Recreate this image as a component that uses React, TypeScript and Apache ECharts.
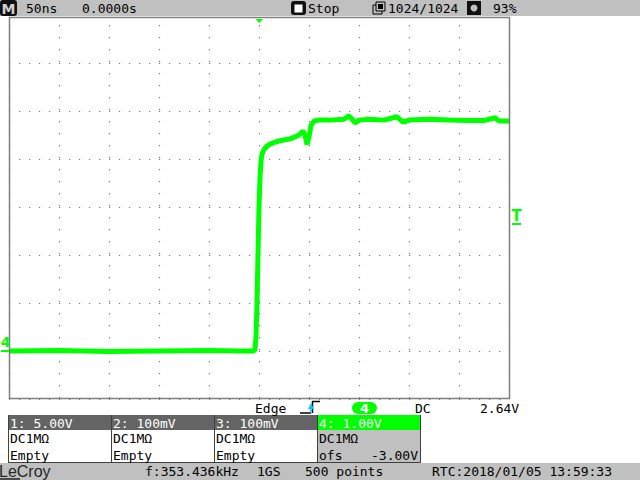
import React, { useEffect, useRef } from "react";
import * as echarts from "echarts";

// Channel 4 trace: time in ns (50 ns/div, trigger at 0) and volts (1 V/div, offset -3 V)
const timeNs = [-250, -200, -150, -100, -50, -20, -6, -4, -3, -2, -1, 0, 1, 2, 3, 5, 8, 11, 16, 21, 26, 31, 36, 40, 44, 46, 48, 50, 52, 55, 60, 70, 85, 90, 93, 96, 100, 110, 125, 138, 144, 150, 170, 190, 210, 225, 236, 240, 250];
const ch4Volts = [0.0, 0.01, -0.01, 0.0, 0.01, 0.0, 0.0, 0.02, 0.3, 1.0, 2.0, 3.0, 3.6, 3.95, 4.1, 4.2, 4.27, 4.31, 4.35, 4.38, 4.4, 4.42, 4.46, 4.5, 4.58, 4.5, 4.3, 4.46, 4.7, 4.79, 4.81, 4.81, 4.83, 4.9, 4.83, 4.75, 4.81, 4.83, 4.81, 4.88, 4.77, 4.81, 4.83, 4.81, 4.8, 4.8, 4.86, 4.79, 4.79];

const headerTexts = ["50ns", "0.0000s", "Stop", "1024/1024", "93%"];
const channelHeaders = ["1: 5.00V", "2: 100mV", "3: 100mV", "4: 1.00V"];
const channelCoupling = ["DC1MΩ", "DC1MΩ", "DC1MΩ", "DC1MΩ"];
const channelStatus = ["Empty", "Empty", "Empty", "ofs"];
const ch4Offset = "-3.00V";
const triggerTexts = ["Edge", "4", "DC", "2.64V"];
const footerTexts = ["f:353.436kHz", "1GS", "500 points", "RTC:2018/01/05 13:59:33"];

const MONO = "13px 'DejaVu Sans Mono'";
const GREEN = "#00ff00";

function txt(text: string, x: number, y: number, fill = "#000", font = MONO, align = "left") {
  return {
    type: "text",
    x,
    y,
    silent: true,
    z: 100,
    style: { text, fill, font, textAlign: align, align, textVerticalAlign: "middle", verticalAlign: "middle" },
  };
}
function rect(x: number, y: number, w: number, h: number, fill: string, stroke?: string, r = 0, z = 90) {
  return {
    type: "rect",
    silent: true,
    z,
    shape: { x, y, width: w, height: h, r },
    style: { fill, stroke: stroke || "none", lineWidth: 1 },
  };
}
function line(x1: number, y1: number, x2: number, y2: number, stroke: string, w = 1, z = 95) {
  return { type: "line", silent: true, z, shape: { x1, y1, x2, y2 }, style: { stroke, lineWidth: w } };
}

export default function App() {
  const ref = useRef<HTMLDivElement>(null);
  useEffect(() => {
    if (!ref.current) return;
    const chart = echarts.init(ref.current, null, { renderer: "svg" });
    const data = timeNs.map((t, i) => [t, ch4Volts[i]]);

    const graphics: any[] = [];
    // header bar
    graphics.push(rect(0, 0, 640, 16, "#c0c0c0"));
    graphics.push(rect(0, 0, 17, 16, "#101010", undefined, 3));
    graphics.push(txt("M", 8.5, 8.5, "#d0d0d0", "bold 14px 'DejaVu Sans'", "center"));
    graphics.push(txt(headerTexts[0], 26, 8));
    graphics.push(txt(headerTexts[1], 82, 8));
    graphics.push(rect(291, 1, 15, 14, "#101010", undefined, 3));
    graphics.push(rect(294.5, 4.5, 8, 8, "#ffffff", undefined, 0, 91));
    graphics.push(txt(headerTexts[2], 308, 8));
    graphics.push(rect(373, 5, 9, 9, "#c0c0c0", "#000", 0, 91));
    graphics.push(rect(376, 2, 9, 9, "#c0c0c0", "#000", 0, 92));
    graphics.push(rect(378, 4, 5, 5, "#000", undefined, 0, 93));
    graphics.push(txt(headerTexts[3], 388, 8));
    graphics.push(rect(467, 1, 14, 14, "#101010", undefined, 0));
    graphics.push({ type: "circle", silent: true, z: 92, shape: { cx: 474, cy: 8, r: 3.5 }, style: { fill: "#c0c0c0" } });
    graphics.push(txt(headerTexts[4], 493, 8));

    // plot frame
    graphics.push(line(9, 17.5, 509.5, 17.5, "#808080", 1.5));
    graphics.push(line(9.5, 17, 9.5, 399, "#808080", 1.5));
    graphics.push(line(509.5, 17, 509.5, 399, "#808080", 1.5));
    graphics.push(line(9, 398.5, 510, 398.5, "#808080", 1.5));

    // markers
    graphics.push({ type: "polygon", silent: true, z: 95, shape: { points: [[255.5, 19], [263, 19], [259.2, 23]] }, style: { fill: GREEN } });
    graphics.push(txt("T", 516.5, 215.5, GREEN, "bold 15px 'DejaVu Sans'", "center"));
    graphics.push(line(512, 224, 521, 224, GREEN, 2));
    graphics.push(txt("4", 5.5, 342, GREEN, "bold 14px 'DejaVu Sans'", "center"));
    graphics.push(line(1, 351, 9, 351, GREEN, 2));

    // trigger info row
    graphics.push(txt(triggerTexts[0], 255, 408));
    graphics.push(line(300, 413, 311, 413, "#000", 1.5));
    graphics.push(line(312.5, 413, 312.5, 401, "#000", 1.5));
    graphics.push(line(312, 401.5, 320, 401.5, "#000", 1.5));
    graphics.push({ type: "polygon", silent: true, z: 96, shape: { points: [[308, 409], [314, 409], [311, 403]] }, style: { fill: "#00c8ff" } });
    graphics.push(line(311, 408, 311, 413, "#00c8ff", 1.5, 96));
    graphics.push(rect(352, 402, 25, 12, GREEN, undefined, 6));
    graphics.push(txt(triggerTexts[1], 364.5, 408, "#ffffff", "bold 13px 'DejaVu Sans'", "center"));
    graphics.push(txt(triggerTexts[2], 415, 408));
    graphics.push(txt(triggerTexts[3], 480, 408));

    // channel boxes
    const bx = [8, 111, 214, 317];
    const bw = [103, 103, 103, 103];
    for (let i = 0; i < 4; i++) {
      const x = bx[i];
      const w = bw[i];
      const isCh4 = i === 3;
      graphics.push(rect(x, 415, w, 15, isCh4 ? GREEN : "#646464"));
      graphics.push(rect(x, 430, w, 33, isCh4 ? "#c0c0c0" : "#ffffff"));
      graphics.push(txt(channelHeaders[i], x + 2, 423, "#ffffff"));
      graphics.push(txt(channelCoupling[i], x + 2, 438.5, "#000"));
      graphics.push(txt(channelStatus[i], x + 2, 455, "#000"));
      graphics.push(line(x + 0.5, 415, x + 0.5, 463, "#404040", 1));
    }
    graphics.push(txt(ch4Offset, 418, 455, "#000", MONO, "right"));
    graphics.push(line(420.5, 415, 420.5, 463, "#404040", 1));
    graphics.push(line(8, 462.5, 421, 462.5, "#404040", 1));

    // footer
    graphics.push(rect(0, 463, 640, 17, "#c0c0c0"));
    graphics.push(txt("LeCroy", -1, 471.5, "#262626", "16px 'Liberation Sans'"));
    graphics.push(line(0, 479, 20, 479, "#262626", 1.5));
    graphics.push(txt(footerTexts[0], 145, 471));
    graphics.push(txt(footerTexts[1], 257, 471));
    graphics.push(txt(footerTexts[2], 305, 471));
    graphics.push(txt(footerTexts[3], 432, 471));

    chart.setOption({
      animation: false,
      backgroundColor: "#ffffff",
      grid: { left: 9, top: 15, width: 500, height: 384, show: false },
      xAxis: {
        type: "value",
        min: -250,
        max: 250,
        interval: 50,
        axisLine: { show: false },
        axisTick: { show: false },
        axisLabel: { show: false },
        splitLine: { show: true, lineStyle: { color: "#7a7a7a", width: 1.2, type: [1.2, 10.8], dashOffset: 2 } },
      },
      yAxis: {
        type: "value",
        min: -1,
        max: 7,
        interval: 1,
        axisLine: { show: false },
        axisTick: { show: false },
        axisLabel: { show: false },
        splitLine: { show: true, lineStyle: { color: "#7a7a7a", width: 1.2, type: [1.2, 8.8] } },
      },
      series: [
        {
          type: "line",
          data,
          showSymbol: false,
          symbol: "none",
          lineStyle: { color: GREEN, width: 5 },
          z: 10,
        },
      ],
      graphic: { elements: graphics },
    });
    return () => chart.dispose();
  }, []);
  return <div ref={ref} style={{ position: "fixed", left: 0, top: 0, width: 640, height: 480 }} />;
}
